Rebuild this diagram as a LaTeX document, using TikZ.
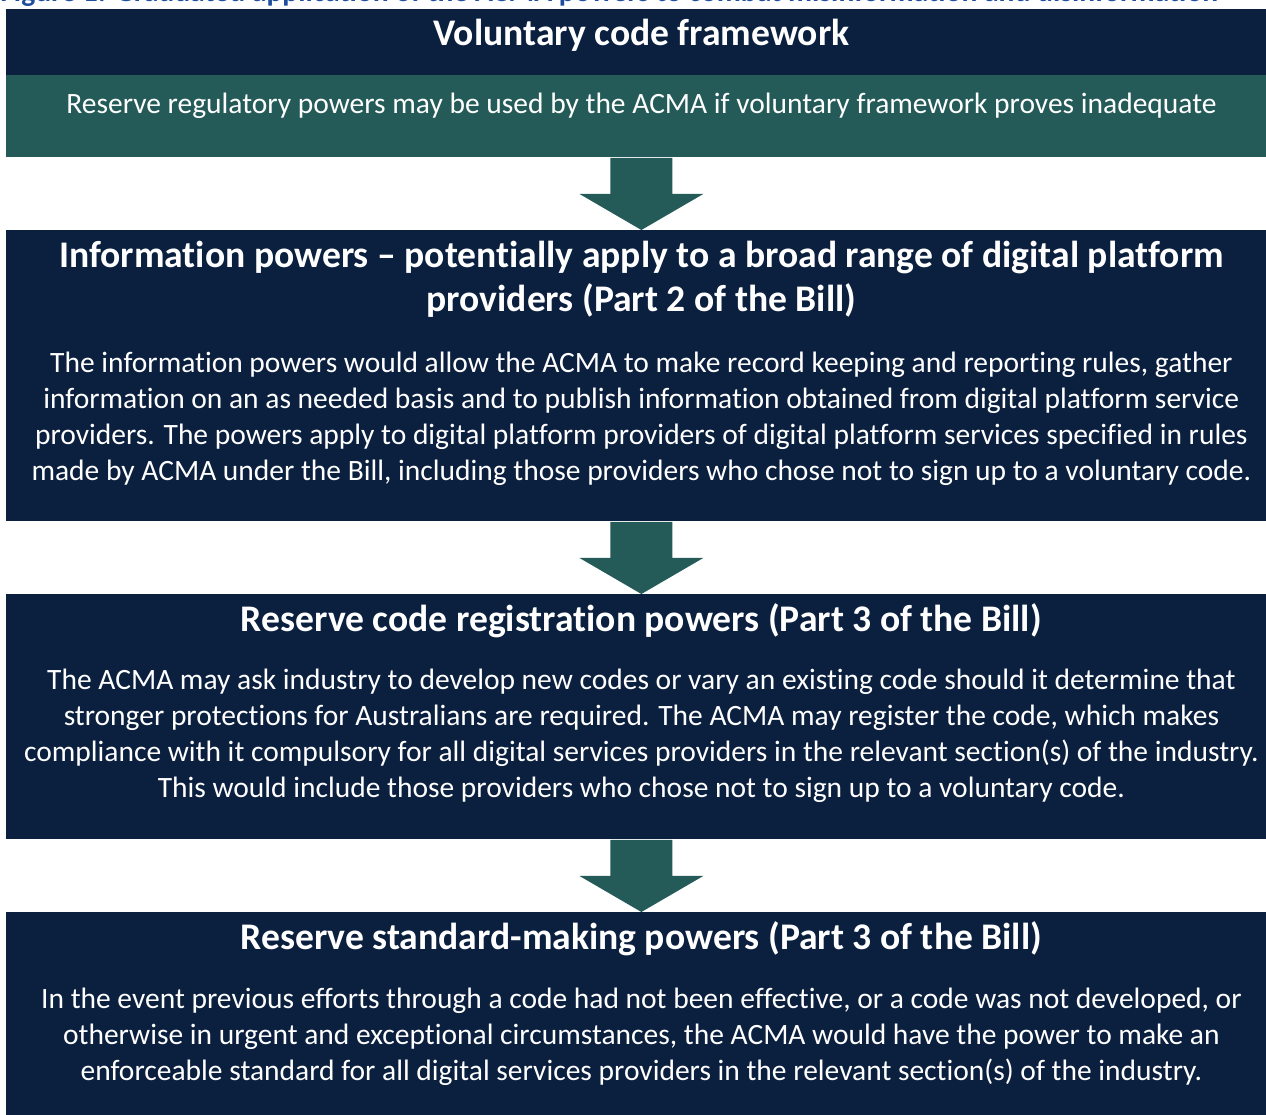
\documentclass[tikz,border=0pt]{standalone}
\usepackage{fontspec}
\setmainfont{Carlito}[Ligatures=NoCommon]
\usepackage{xcolor}
\usetikzlibrary{positioning,calc}
\definecolor{acmanavy}{RGB}{11,31,63}
\definecolor{acmateal}{RGB}{36,91,88}
\definecolor{acmablue}{RGB}{31,78,158}
\newlength\px
\setlength\px{0.5pt}

% block arrow from the bottom of one panel to the top of the next
\newcommand\stagearrow[2]{%
    \coordinate (mid) at ($(#1.south)!0.5!(#2.north)$);
    \fill[acmateal] ($(#1.south)+(-31,0)$) -- ($(#1.south)+(31,0)$)
        -- ($(mid)+(31,0)$) -- ($(mid)+(62,0)$) -- (#2.north)
        -- ($(mid)+(-62,0)$) -- ($(mid)+(-31,0)$) -- cycle;
}

\begin{document}
\begin{tikzpicture}[
    x=0.5pt, y=-0.5pt,
    panel/.style={rectangle, fill=acmanavy, inner sep=0pt,
        minimum width=1270\px, anchor=north west},
    heading/.style={text=white, font=\bfseries\fontsize{18.8}{22}\selectfont,
        align=center, inner sep=0pt},
    body/.style={text=white, font=\fontsize{14.75}{18}\selectfont,
        align=center, inner sep=0pt}
]
    \useasboundingbox (0,0) rectangle (1266,1115);

    \node[anchor=base west, inner sep=0pt, text=acmablue,
        font=\bfseries\fontsize{14.8}{17}\selectfont] (caption) at (0,1)
        {Figure 1: Graduated application of the ACMA powers to combat misinformation and disinformation};

    % panels
    \node[panel, minimum height=66\px] (vol) at (6,9) {};
    \node[panel, fill=acmateal, minimum height=82\px] (note) at (6,75) {};
    \node[panel, minimum height=291\px] (info) at (6,230) {};
    \node[panel, minimum height=245\px] (code) at (6,594) {};
    \node[panel, minimum height=203\px] (std) at (6,912) {};

    % texts
    \node[heading, below=10\px of vol.north] (volhead) {Voluntary code framework};
    \node[body, below=18\px of note.north] (notetext)
        {Reserve regulatory powers may be used by the ACMA if voluntary framework proves inadequate};

    \node[heading, below=11\px of info.north] (infohead)
        {Information powers -- potentially apply to a broad range of digital platform\\
         providers (Part 2 of the Bill)};
    \node[body, below=34\px of infohead] (infotext)
        {The information powers would allow the ACMA to make record keeping and reporting rules, gather\\
         information on an as needed basis and to publish information obtained from digital platform service\\
         providers. The powers apply to digital platform providers of digital platform services specified in rules\\
         made by ACMA under the Bill, including those providers who chose not to sign up to a voluntary code.};

    \node[heading, below=9\px of code.north] (codehead)
        {Reserve code registration powers (Part 3 of the Bill)};
    \node[body, below=31\px of codehead] (codetext)
        {The ACMA may ask industry to develop new codes or vary an existing code should it determine that\\
         stronger protections for Australians are required. The ACMA may register the code, which makes\\
         compliance with it compulsory for all digital services providers in the relevant section(s) of the industry.\\
         This would include those providers who chose not to sign up to a voluntary code.};

    \node[heading, below=9\px of std.north] (stdhead)
        {Reserve standard-making powers (Part 3 of the Bill)};
    \node[body, below=32\px of stdhead] (stdtext)
        {In the event previous efforts through a code had not been effective, or a code was not developed, or\\
         otherwise in urgent and exceptional circumstances, the ACMA would have the power to make an\\
         enforceable standard for all digital services providers in the relevant section(s) of the industry.};

    % arrows between the stages
    \stagearrow{note}{info}
    \stagearrow{info}{code}
    \stagearrow{code}{std}
\end{tikzpicture}
\end{document}
